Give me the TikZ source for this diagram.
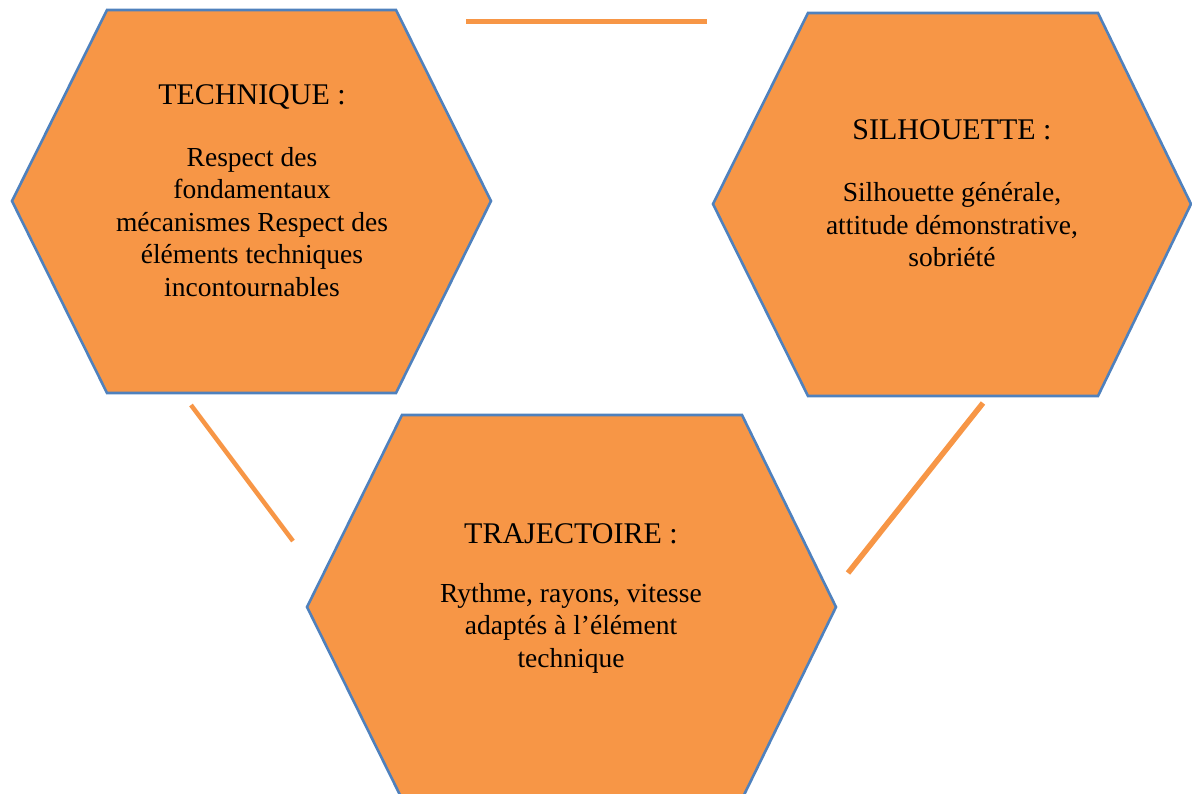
\documentclass[tikz,border=0pt]{standalone}
\usepackage{fontspec}
\setmainfont{Liberation Serif}
\definecolor{hexfill}{HTML}{F79646}
\definecolor{hexline}{HTML}{4F81BD}
\begin{document}
\begin{tikzpicture}[x=1pt,y=-1pt,
  hexa/.style={fill=hexfill,draw=hexline,line width=2.6pt,line join=miter},
  link/.style={draw=hexfill,line width=5pt},
  ttl/.style={font=\fontsize{30}{32}\selectfont,align=center,inner sep=0pt},
  body/.style={font=\fontsize{27.5}{32.5}\selectfont,align=center,inner sep=0pt}]
\useasboundingbox (0,0) rectangle (1192,793);
\clip (0,0) rectangle (1192,793);
% hexagons
\draw[hexa] (12,201) -- (107,10) -- (396,10) -- (491,201) -- (396,393) -- (107,393) -- cycle;
\draw[hexa] (713,204) -- (808,13) -- (1098,13) -- (1191,204) -- (1098,396) -- (808,396) -- cycle;
\draw[hexa] (307,607) -- (402,415) -- (742,415) -- (836,607) -- (742,799) -- (402,799) -- cycle;
% texts
\node[ttl] (t1) at (252,97) {TECHNIQUE :};
\node[body] (b1) at (252,222) {Respect des\\fondamentaux\\mécanismes Respect des\\éléments techniques\\incontournables};
\node[ttl] (t2) at (952,130) {SILHOUETTE :};
\node[body] (b2) at (952,225) {Silhouette générale,\\attitude démonstrative,\\sobriété};
\node[ttl] (t3) at (571,534) {TRAJECTOIRE :};
\node[body] (b3) at (571,628) {Rythme, rayons, vitesse\\adaptés à l’élément\\technique};
% connectors
\coordinate (ta) at (466,21.5);
\coordinate (tb) at (707,21.5);
\coordinate (la) at (191,405);
\coordinate (lb) at (293,541);
\coordinate (ra) at (983,403);
\coordinate (rb) at (848,573);
\draw[link] (ta) -- (tb);
\draw[link,line width=4.5pt] (la) -- (lb);
\draw[link,line width=5.5pt] (ra) -- (rb);
\end{tikzpicture}
\end{document}
